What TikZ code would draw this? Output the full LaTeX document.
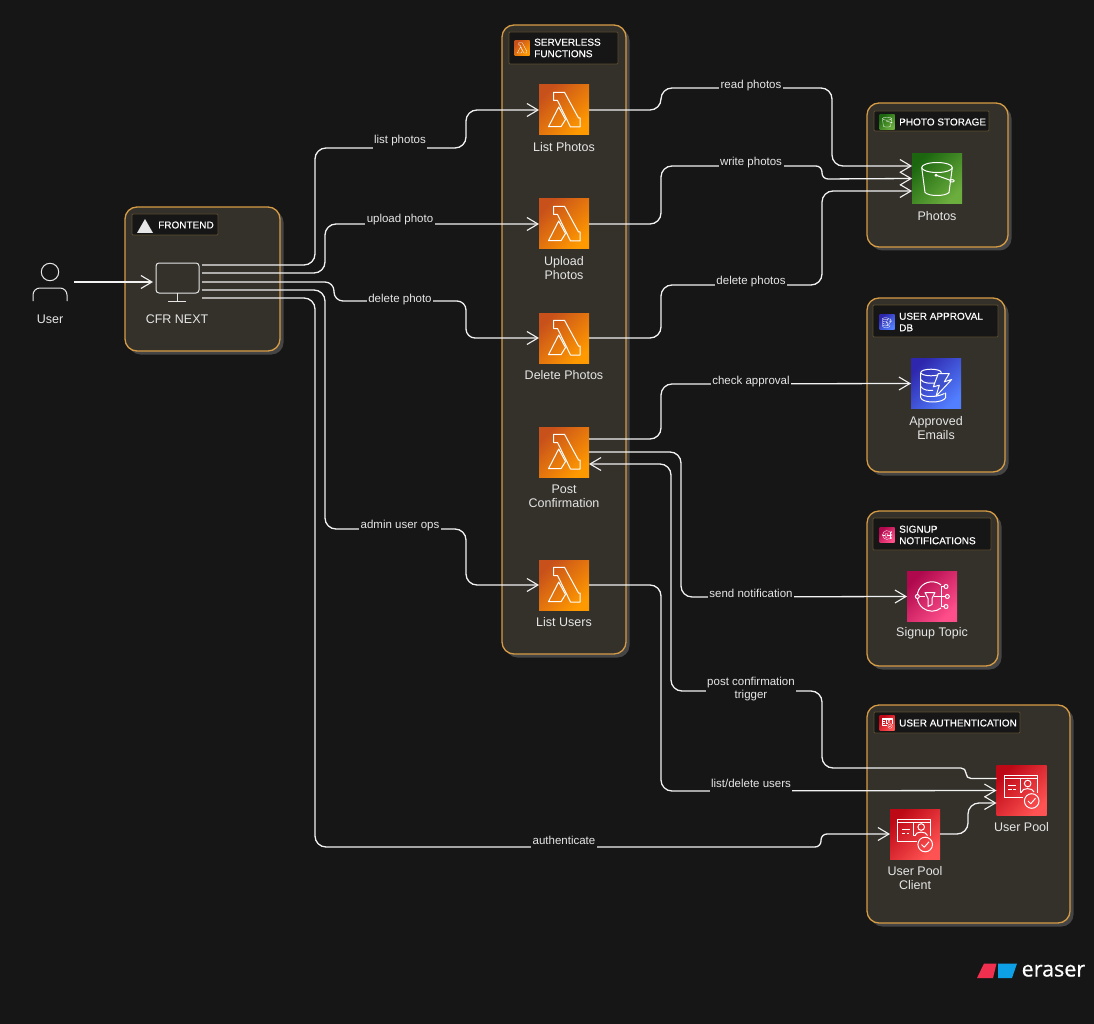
\documentclass[tikz,border=0pt]{standalone}
\usepackage{fontspec}
\setmainfont{Liberation Sans}
\newfontfamily\grpfont[FakeBold=0.35]{Liberation Sans}
\newfontfamily\logofont[FakeBold=0.6]{Open Sans}
\usetikzlibrary{arrows.meta,shadows,calc}
\definecolor{bgc}{HTML}{161616}
\definecolor{groupfill}{HTML}{34312A}
\definecolor{groupline}{HTML}{D59B45}
\definecolor{shadowc}{HTML}{454545}
\definecolor{tagline}{HTML}{5C4C2E}
\definecolor{textc}{HTML}{E6E6E6}
\tikzset{
  groupbox/.style={rectangle,rounded corners=12pt,draw=groupline,line width=1.3pt,fill=groupfill,inner sep=0pt,outer sep=0pt,
    general shadow={shadow xshift=3.5pt,shadow yshift=-3.5pt,fill=shadowc}},
  tagbox/.style={rectangle,rounded corners=1pt,draw=tagline,line width=.8pt,fill=bgc,inner sep=0pt},
  tagtext/.style={anchor=west,align=left,inner sep=0pt,text=white,font=\grpfont\fontsize{10}{11.5}\selectfont},
  iconbox/.style={rectangle,minimum size=#1,inner sep=0pt,outer sep=0pt},
  iconbox/.default=50pt,
  lamfill/.style={left color=lamA,right color=lamB,shading angle=45},
  sthreefill/.style={left color=s3A,right color=s3B,shading angle=45},
  ddbfillst/.style={left color=dbA,right color=dbB,shading angle=45},
  snsfill/.style={left color=snsA,right color=snsB,shading angle=45},
  cogfill/.style={left color=cogA,right color=cogB,shading angle=45},
  captxt/.style={align=center,text=textc,inner sep=0pt,font=\fontsize{12.5}{14}\selectfont},
  conn/.style={draw=white!95!black,line width=1.3pt,rounded corners=11pt},
  headtip/.style={-{Straight Barb[length=11pt,width=13pt,line width=1.1pt]}},
  elabel/.style={anchor=base,fill=bgc,text=textc,inner sep=1.5pt,text height=8pt,text depth=5pt,font=\fontsize{11.5}{13}\selectfont},
  glyph/.style={draw=white,fill=none,line join=round},
  bigglyph/.style={line width=1pt},
  smallglyph/.style={scale=.3,line width=.3pt},
  lambdaglyph/.pic={
    \path[glyph] (-10.5,-17.7)--(0.5,-17.7)--(14.5,8)--(16,8)--(16,17)--(6.5,17)--(-6.5,-9.5)--(-10.5,-9.5)--cycle;
    \path[glyph] (-15.5,16.7)--(-5.3,-3)--(1.5,9.5)--(-3,16.7)--cycle;
  },
  bucketglyph/.pic={
    \path[glyph] (0,-11) ellipse [x radius=15.3,y radius=5];
    \path[glyph] (-15.3,-11) -- (-12,14) .. controls (-8,18) and (8,18) .. (12,14) -- (15.3,-11);
    \path[glyph] (-1,-3.3) -- (14,2);
    \path[glyph] (-1,-3.3) circle [radius=1];
    \path[glyph] (15,2.3) ellipse [x radius=2.2,y radius=1.2];
  },
  dbglyph/.pic={
    \path[glyph] (-5,-11) ellipse [x radius=10.3,y radius=3.3];
    \path[glyph] (-15.3,-11) -- (-15.3,14) .. controls (-14,20) and (7,20) .. (9.7,14) -- (9.7,9);
    \path[glyph] (-15.3,-4) .. controls (-13,0) and (-6,0) .. (-1,-.5);
    \path[glyph] (-15.3,3) .. controls (-13,7) and (-7,7) .. (-3,7);
    \path[glyph] (-15.3,10) .. controls (-13,14) and (1,14) .. (8.5,10);
    \path[glyph,fill=ddbfill] (2.3,-10)--(13.3,-10)--(8.3,-1.7)--(15.7,-4)--(0,12.7)--(3.3,1.7)--(-2.7,3.3)--cycle;
  },
  snsglyph/.pic={
    \path[glyph] (9,-11.6) arc [start angle=-52,end angle=-308,radius=14.7];
    \path[glyph,fill=snsdot] (-14.7,0) circle [radius=2];
    \path[glyph] (-7,-4)--(3,-4)--(0,2)--(0,8)--(-4,10)--(-4,2)--cycle;
    \path[glyph] (-12.7,0)--(-7,0) (1.5,0)--(13.3,0) (9,-10)--(9,10) (9,-10)--(12,-10) (9,10)--(12,10);
    \path[glyph] (14,-10) circle [radius=2] (15.3,0) circle [radius=2] (14,10) circle [radius=2];
  },
  cogglyph/.pic={
    \path[glyph] (1.5,7)--(-17.5,7)--(-17.5,-15)--(15.5,-15)--(15.5,2);
    \path[glyph] (-17.5,-11.7)--(15.5,-11.7);
    \path[glyph] (-1.5,-11.7)--(-1.5,1.7)--(.5,1.7);
    \path[glyph] (6.2,-7) circle [radius=3.3];
    \path[glyph] (0,1.5) .. controls (.5,-3) and (11.5,-3) .. (12.5,1.5);
    \path[glyph] (-13.2,-5)--(-5.5,-5) (-13.2,-.7)--(-10,-.7) (-8.5,-.7)--(-6,-.7);
    \path[glyph] (10.2,10.5) circle [radius=7.3];
    \path[glyph] (6.5,10.5)--(9.2,13.2)--(14,7.8);
  },
}
\definecolor{lamA}{HTML}{C8511B}\definecolor{lamB}{HTML}{FF9900}
\definecolor{s3A}{HTML}{1B660F}\definecolor{s3B}{HTML}{6CAE3E}
\definecolor{dbA}{HTML}{2E27AD}\definecolor{dbB}{HTML}{527FFF}
\definecolor{snsA}{HTML}{B0084D}\definecolor{snsB}{HTML}{FF4F8B}
\definecolor{cogA}{HTML}{BD0816}\definecolor{cogB}{HTML}{FF5252}
\definecolor{ddbfill}{HTML}{3F50CC}
\definecolor{snsdot}{HTML}{D42A6C}
\definecolor{logored}{HTML}{F0304E}
\definecolor{logoblue}{HTML}{0EA0E6}
\begin{document}
\begin{tikzpicture}[x=1pt,y=-1pt]
\fill[bgc] (0,0) rectangle (1094,1024);
\useasboundingbox (0,0) rectangle (1094,1024);

% groups
\node[groupbox,minimum width=155pt,minimum height=144pt] (frontend) at (202.5,279) {};
\node[groupbox,minimum width=124pt,minimum height=629pt] (serverless) at (564,339.5) {};
\node[groupbox,minimum width=141pt,minimum height=144pt] (storage) at (937.5,175) {};
\node[groupbox,minimum width=138pt,minimum height=174pt] (approval) at (936,385) {};
\node[groupbox,minimum width=131pt,minimum height=155pt] (signup) at (932.5,588.5) {};
\node[groupbox,minimum width=203pt,minimum height=218pt] (auth) at (968.5,814) {};

% group tags
\node[tagbox,minimum width=86pt,minimum height=21pt] (tagfe) at (175,224.5) {};
\node[tagbox,minimum width=109pt,minimum height=32pt] (tagsl) at (563.5,48) {};
\node[tagbox,minimum width=115pt,minimum height=20pt] (tagst) at (931.5,121) {};
\node[tagbox,minimum width=125pt,minimum height=32pt] (tagap) at (935.5,321) {};
\node[tagbox,minimum width=118pt,minimum height=32pt] (tagsn) at (932,534) {};
\node[tagbox,minimum width=146pt,minimum height=21pt] (tagau) at (947,722.5) {};
\fill[textc] (137,233)--(145,219)--(153,233)--cycle;
\node[tagtext] (tfe) at (158,225) {FRONTEND};
\node[tagtext] (tsl) at (534,48) {SERVERLESS\\FUNCTIONS};
\node[tagtext] (tst) at (899,122) {PHOTO STORAGE};
\node[tagtext] (tap) at (899,322) {USER APPROVAL\\DB};
\node[tagtext] (tsn) at (899,535) {SIGNUP\\NOTIFICATIONS};
\node[tagtext] (tau) at (899,723) {USER AUTHENTICATION};
\node[iconbox=15pt,lamfill] (isl) at (522,48) {};
\node[iconbox=15pt,sthreefill] (ist) at (887,122) {};
\node[iconbox=15pt,ddbfillst] (iap) at (887,322) {};
\node[iconbox=15pt,snsfill] (isn) at (887,535) {};
\node[iconbox=15pt,cogfill] (iau) at (887,723) {};
\pic[smallglyph] at (isl) {lambdaglyph};
\pic[smallglyph] at (ist) {bucketglyph};
\pic[smallglyph] at (iap) {dbglyph};
\pic[smallglyph] at (isn) {snsglyph};
\pic[smallglyph] at (iau) {cogglyph};

% user and frontend
\node[minimum width=48pt,minimum height=40pt,inner sep=0pt] (user) at (50,282) {};
\draw[textc,line width=1pt] (50,272) circle [radius=8.7];
\draw[textc,line width=1pt,rounded corners=7pt] (33,301)--(33,288)--(67,288)--(67,301);
\node[captxt] (userlbl) at (50,319) {User};
\node[draw=textc,line width=1pt,rounded corners=3pt,minimum width=43pt,minimum height=30pt,inner sep=0pt,outer sep=3pt] (cfr) at (177.5,278) {};
\draw[textc,line width=1pt] (177,293)--(177,301) (168,301)--(186,301);
\node[captxt] (cfrlbl) at (177,319) {CFR NEXT};

% service icons
\foreach \n/\y in {lp/110,up/224,dp/338,pc/452,lu/585}
  {\node[iconbox,lamfill] (\n) at (564,\y) {}; \pic[bigglyph] at (\n) {lambdaglyph};}
\node[captxt] (lplbl) at (564,147) {List Photos};
\node[captxt] (uplbl) at (564,268) {Upload\\Photos};
\node[captxt] (dplbl) at (564,375) {Delete Photos};
\node[captxt] (pclbl) at (564,496) {Post\\Confirmation};
\node[captxt] (lulbl) at (564,622) {List Users};
\node[iconbox,sthreefill] (photos) at (937,178.5) {}; \pic[bigglyph] at (photos) {bucketglyph};
\node[captxt] (phlbl) at (937,216) {Photos};
\node[iconbox,ddbfillst] (emails) at (936,383.5) {}; \pic[bigglyph] at (emails) {dbglyph};
\node[captxt] (emlbl) at (936,428) {Approved\\Emails};
\node[iconbox,snsfill] (topic) at (932,596.5) {}; \pic[bigglyph] at (topic) {snsglyph};
\node[captxt] (tolbl) at (932,633) {Signup Topic};
\node[iconbox,cogfill] (pool) at (1021.5,790.5) {}; \pic[bigglyph] at (pool) {cogglyph};
\node[captxt] (polbl) at (1021.5,827) {User Pool};
\node[iconbox,cogfill] (client) at (915,834) {}; \pic[bigglyph] at (client) {cogglyph};
\node[captxt] (cllbl) at (915,878) {User Pool\\Client};

% connectors
\draw[conn,headtip] (user.east) -- (user.east -| cfr.west);
\draw[conn,headtip] ([yshift=13pt]cfr.east) -- (315,265) -- (315,148) -- (466,148) -- (466,110) -- (lp.west);
\draw[conn,headtip] ([yshift=5pt]cfr.east) -- (325,273) -- (325,224) -- (up.west);
\draw[conn,headtip,rounded corners=9pt] ([yshift=-4pt]cfr.east) -- (334,282) -- (334,301) -- (466,301) -- (466,338) -- (dp.west);
\draw[conn,headtip] ([yshift=-12pt]cfr.east) -- (325,290) -- (325,529) -- (466,529) -- (466,585) -- (lu.west);
\draw[conn,headtip] ([yshift=-20pt]cfr.east) -- (315,298) -- (315,847) [rounded corners=6pt] -- (821,847) -- (821,834) -- (client.west);

\draw[conn,headtip] (lp.east) -- (661,110) -- (661,88) -- (832,88) -- (832,166) -- ([yshift=12.5pt]photos.west);
\draw[conn,headtip] (up.east) -- (661,224) -- (661,166) [rounded corners=6pt] -- (822,166) -- (822,179) -- (photos.west);
\draw[conn,headtip] (dp.east) -- (661,338) -- (661,285) -- (822,285) -- (822,191) -- ([yshift=-12.5pt]photos.west);
\draw[conn,headtip] ([yshift=13pt]pc.east) -- (661,439) -- (661,384) -- (emails.west);
\draw[conn,headtip] (pc.east) -- (681,452) -- (681,597) -- (topic.west);
\draw[conn,headtip,rounded corners=5pt] ([yshift=12pt]pool.west) -- (966,778.5) -- (966,768) [rounded corners=11pt] -- (822,768) -- (822,691) -- (671,691) -- (671,464) -- ([yshift=-12pt]pc.east);
\draw[conn,headtip] (lu.east) -- (661,585) -- (661,791) -- (pool.west);
\draw[conn,headtip] (client.east) -- (968,834) -- (968,803) -- ([yshift=-12.5pt]pool.west);

% connector labels
\node[elabel] (l1) at (400,144) {list photos};
\node[elabel] (l2) at (400,223) {upload photo};
\node[elabel] (l3) at (400,302) {delete photo};
\node[elabel] (l4) at (400,528) {admin user ops};
\node[elabel] (l5) at (564,844) {authenticate};
\node[elabel] (l6) at (751,89) {read photos};
\node[elabel] (l7) at (751,166) {write photos};
\node[elabel] (l8) at (751,284) {delete photos};
\node[elabel] (l9) at (751,384) {check approval};
\node[elabel] (l10) at (751,597) {send notification};
\node[elabel] (l11) at (751,787) {list/delete users};
\node[fill=bgc,align=center,text=textc,inner sep=1.5pt,font=\fontsize{11.5}{13}\selectfont] (l12) at (751,689.5) {post confirmation\\trigger};

% logo
\fill[logored] (977,978)--(984,963.5)--(996.5,963.5)--(993,978)--cycle;
\fill[logoblue] (998,978)--(998,963.5)--(1017,963.5)--(1012,978)--cycle;
\node[anchor=base west,inner sep=0pt,text=white,font=\logofont\fontsize{21.5}{22}\selectfont] (brand) at (1021.5,976.5) {eraser};
\end{tikzpicture}
\end{document}
